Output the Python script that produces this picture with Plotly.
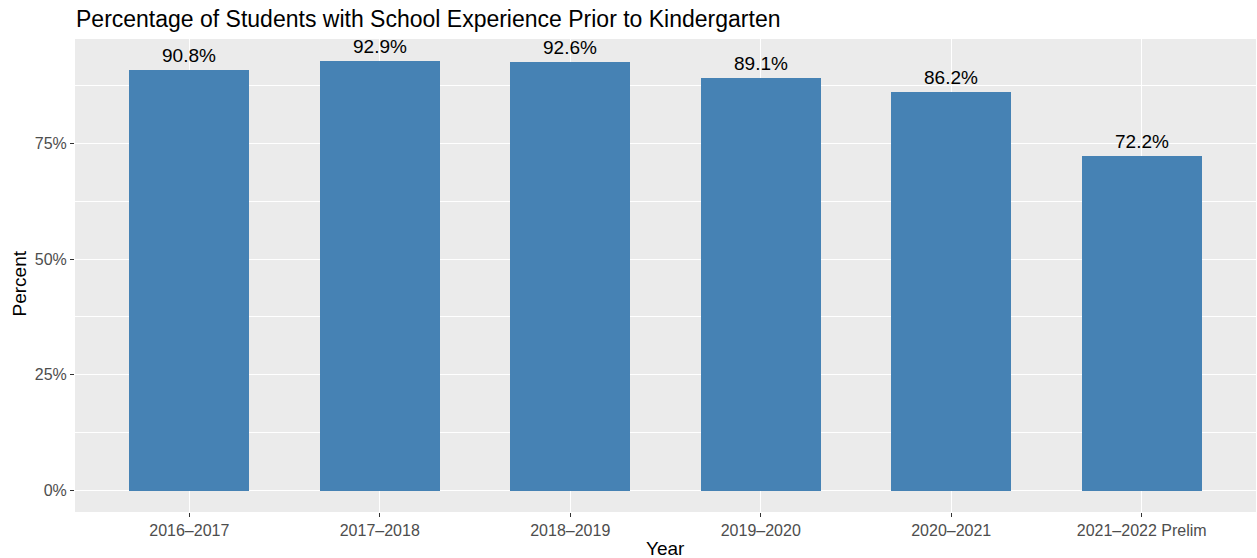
import plotly.graph_objects as go

years = ["2016–2017", "2017–2018", "2018–2019", "2019–2020", "2020–2021", "2021–2022 Prelim"]
percent = [90.8, 92.9, 92.6, 89.1, 86.2, 72.2]
labels = ["90.8%", "92.9%", "92.6%", "89.1%", "86.2%", "72.2%"]
y_ticks = [0, 25, 50, 75]
y_tick_labels = ["0%", "25%", "50%", "75%"]

FONT = "Liberation Sans, Arial, Helvetica, sans-serif"
W, H = 1257, 558
ML, MR, MT, MB = 75, 1, 39, 46

fig = go.Figure()
fig.add_trace(go.Bar(
    x=list(range(len(years))), y=percent, width=0.63,
    marker=dict(color="#4682B4", line=dict(width=0)),
    hoverinfo="skip",
))

for i, (v, t) in enumerate(zip(percent, labels)):
    fig.add_annotation(x=i, y=v, text=t, showarrow=False, yanchor="bottom",
                       yshift=2, font=dict(family=FONT, size=19, color="black"))

# Title and axis titles
fig.add_annotation(text="Percentage of Students with School Experience Prior to Kindergarten",
                   xref="paper", yref="paper", x=0, y=1, xanchor="left", yanchor="middle",
                   yshift=MT - 19, xshift=-1, showarrow=False,
                   font=dict(family=FONT, size=23, color="black"))
fig.add_annotation(text="Year", xref="paper", yref="paper", x=0.5, y=0,
                   xanchor="center", yanchor="middle", yshift=-(548 - (H - MB)),
                   showarrow=False, font=dict(family=FONT, size=19, color="black"))
fig.add_annotation(text="Percent", xref="paper", yref="paper", x=0, y=0.5,
                   xanchor="center", yanchor="middle", textangle=-90,
                   xshift=-(ML - 19), yshift=-8,
                   showarrow=False, font=dict(family=FONT, size=19, color="black"))

ymax = max(percent)
pad = ymax * 0.05
fig.update_layout(
    width=W, height=H,
    margin=dict(l=ML, r=MR, t=MT, b=MB, autoexpand=False),
    paper_bgcolor="white", plot_bgcolor="#EBEBEB",
    showlegend=False,
    font=dict(family=FONT),
    bargap=0,
)
fig.update_xaxes(
    range=[-0.6, len(years) - 0.4], automargin=False,
    tickmode="array", tickvals=list(range(len(years))), ticktext=years,
    showgrid=True, gridcolor="white", gridwidth=1.4,
    ticks="outside", ticklen=4, tickwidth=1.2, tickcolor="#333333",
    tickfont=dict(family=FONT, size=16, color="#4D4D4D"),
    zeroline=False, showline=False,
)
fig.update_yaxes(
    range=[-pad, ymax + pad], automargin=False,
    tickmode="array", tickvals=y_ticks, ticktext=y_tick_labels,
    showgrid=True, gridcolor="white", gridwidth=1.4,
    minor=dict(tickmode="array", tickvals=[12.5, 37.5, 62.5, 87.5], showgrid=True,
               gridcolor="white", gridwidth=0.7, ticks=""),
    ticks="outside", ticklen=4, tickwidth=1.2, tickcolor="#333333",
    tickfont=dict(family=FONT, size=16, color="#4D4D4D"),
    zeroline=False, showline=False,
)

fig.write_html("out.html", config={"displayModeBar": False},
               post_script="document.body.style.margin='0';document.body.style.padding='0';document.body.style.overflow='hidden';")
